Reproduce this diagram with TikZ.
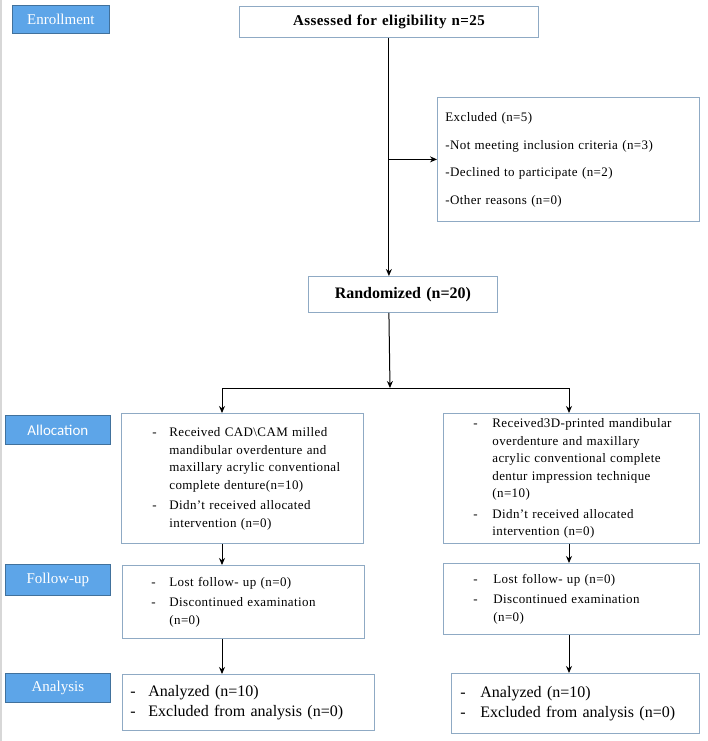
\documentclass[tikz,border=0pt]{standalone}
\usepackage{fontspec}
\setmainfont{Liberation Serif}
\newfontfamily\boxfont[LetterSpace=3]{Liberation Serif}
\newfontfamily\labfont{Carlito}
\usepackage{tikz}
\usetikzlibrary{calc}
\usetikzlibrary{shapes.geometric, arrows, arrows.meta}
\tikzstyle{arrow} = [->,>={Stealth[length=7pt,width=6pt]},line width=1pt]
\tikzstyle{stage} = [anchor=north west,inner sep=0pt,line width=0.8pt,draw={rgb, 255:red, 65; green, 113; blue, 156},fill={rgb, 255:red, 93; green, 165; blue, 232},text=white,font=\fontsize{15}{18}\selectfont]
\tikzstyle{box} = [anchor=north west,inner sep=0pt,line width=0.8pt,draw={rgb, 255:red, 143; green, 170; blue, 196},align=left,font=\boxfont\fontsize{13}{17.5}\selectfont]
% dash list: left pad, dash column
\newenvironment{dashlist}[2]{\begin{tabular}{@{\hspace{#1}}p{#2}@{}l@{}}}{\end{tabular}}

\begin{document}
\begin{tikzpicture}[x=1pt,y=-1pt]
\useasboundingbox (0,0) rectangle (708,741);
%left rule
\draw [color={rgb, 255:red, 215; green, 215; blue, 215}, line width=1.5pt] (0.75,0) -- (0.75,741);

%stage labels
\node [stage, minimum width=97, minimum height=28] (enroll) at (12,5) {Enrollment};
\node [stage, minimum width=105, minimum height=29, font=\labfont\fontsize{15}{18}\selectfont] (alloclab) at (5,415) {Allocation};
\node [stage, minimum width=105, minimum height=31] (fulab) at (5,564) {Follow-up};
\node [stage, minimum width=105, minimum height=29] (analab) at (5,673) {Analysis};

%enrolment
\node [box, align=center, text width=299pt, minimum height=31, font=\boxfont\bfseries\fontsize{15}{18}\selectfont] (assess) at (239,6) {Assessed for eligibility n=25\hspace*{20pt}};
\node [box, text width=262pt, minimum height=124] (excl) at (437,97) {%
\begin{tabular}{@{\hspace{8pt}}l@{}}
Excluded (n=5)\\[10pt]
-Not meeting inclusion criteria (n=3)\\[10pt]
-Declined to participate (n=2)\\[10pt]
-Other reasons (n=0)
\end{tabular}\par\vspace*{12pt}};
\node [box, align=center, text width=189pt, minimum height=36, font=\bfseries\fontsize{16}{19}\selectfont] (rand) at (308,276) {Randomized (n=20)};

%allocation
\node [box, text width=242pt, minimum height=130] (alloc1) at (121,413) {%
\begin{dashlist}{31pt}{17pt}
- & Received CAD\textbackslash CAM milled\\
  & mandibular overdenture and\\
  & maxillary acrylic conventional\\
  & complete denture(n=10)\\[3pt]
- & Didn’t received allocated\\
  & intervention (n=0)
\end{dashlist}};
\node [box, text width=256pt, minimum height=130] (alloc2) at (443,413) {%
\begin{dashlist}{30pt}{19pt}
- & Received3D-printed mandibular\\
  & overdenture and maxillary\\
  & acrylic conventional complete\\
  & dentur impression technique\\
  & (n=10)\\[3pt]
- & Didn’t received allocated\\
  & intervention (n=0)
\end{dashlist}};

%follow-up
\node [box, text width=242pt, minimum height=73] (fu1) at (122,565) {%
\begin{dashlist}{29pt}{18pt}
- & Lost follow- up (n=0)\\[3pt]
- & Discontinued examination\\
  & (n=0)
\end{dashlist}};
\node [box, text width=256pt, minimum height=71] (fu2) at (443,563) {%
\begin{dashlist}{30pt}{20pt}
- & Lost follow- up (n=0)\\[3pt]
- & Discontinued examination\\
  & (n=0)
\end{dashlist}};

%analysis
\node [box, text width=252pt, minimum height=56, font=\fontsize{16}{20}\selectfont] (ana1) at (122,674) {%
\begin{dashlist}{8pt}{18pt}
- & Analyzed (n=10)\\
- & Excluded from analysis (n=0)
\end{dashlist}};
\node [box, text width=248pt, minimum height=60, font=\fontsize{16}{20}\selectfont] (ana2) at (451,673) {%
\begin{dashlist}{9pt}{20pt}
- & Analyzed (n=10)\\
- & Excluded from analysis (n=0)
\end{dashlist}};

%arrows
\coordinate (split) at (390,388);
\coordinate (lcol) at (222,0);
\coordinate (rcol) at (569,0);
\draw [arrow] (assess.south) -- (assess.south |- rand.north);
\draw [arrow] (assess.south |- excl.west) -- (excl.west);
\draw [arrow] (assess.south |- rand.south) -- (split);
\draw [arrow] (split) -| (alloc1.north -| lcol);
\draw [arrow] (split) -| (alloc2.north -| rcol);
\draw [arrow] (alloc1.south -| lcol) -- (fu1.north -| lcol);
\draw [arrow] (alloc2.south -| rcol) -- (fu2.north -| rcol);
\draw [arrow] (fu1.south -| lcol) -- (ana1.north -| lcol);
\draw [arrow] (fu2.south -| rcol) -- (ana2.north -| rcol);
\end{tikzpicture}
\end{document}
